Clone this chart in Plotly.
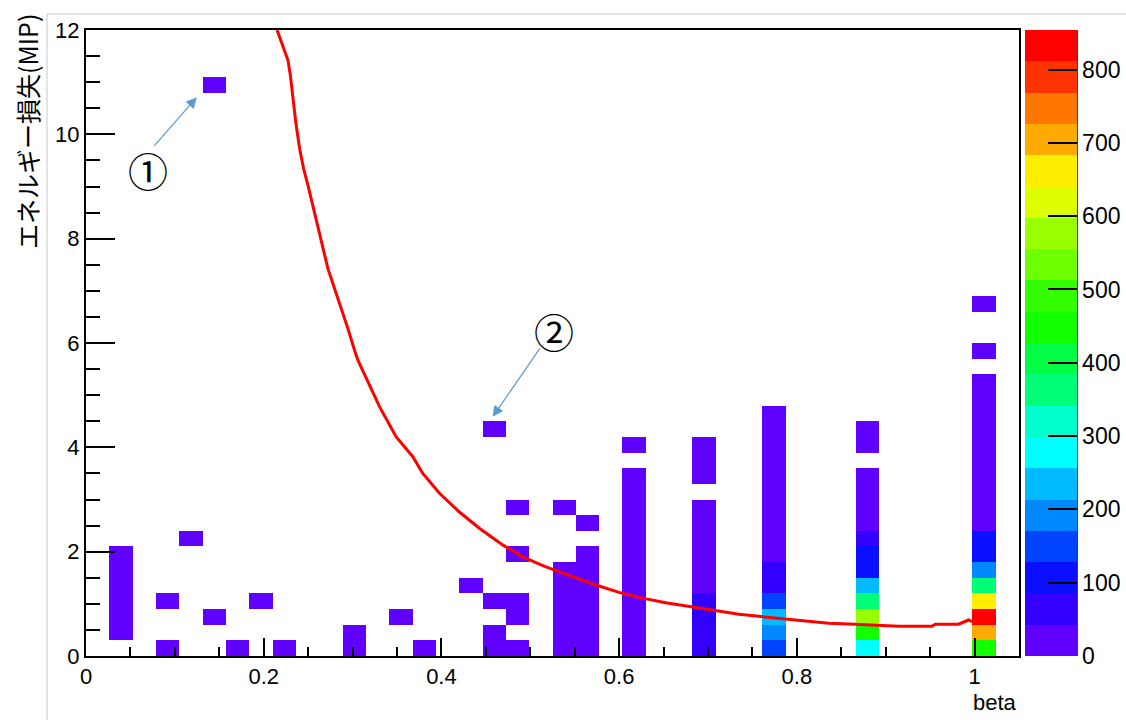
import plotly.graph_objects as go

# ---------------- data ----------------
# 2D histogram binning: 40 x 40 bins
N_XBINS, X_MIN, X_MAX = 40, 0.0, 1.05
N_YBINS, Y_MIN, Y_MAX = 40, 0.0, 12.0

# non-empty cells: (beta bin index, energy-loss bin index, count)
cell_xbin = [
    1, 1, 1, 1, 1, 1,
    3, 3, 4, 5, 5, 6, 7, 8, 11, 11, 13, 14, 16,
    17, 17, 17, 17,
    18, 18, 18, 18, 18,
    20, 20, 20, 20, 20, 20, 20,
    21, 21, 21, 21, 21, 21, 21, 21,
    23, 23, 23, 23, 23, 23, 23, 23, 23, 23, 23, 23, 23,
    26, 26, 26, 26, 26, 26, 26, 26, 26, 26, 26, 26, 26,
    29, 29, 29, 29, 29, 29, 29, 29, 29, 29, 29, 29, 29, 29, 29, 29,
    33, 33, 33, 33, 33, 33, 33, 33, 33, 33, 33, 33, 33, 33,
    38, 38, 38, 38, 38, 38, 38, 38, 38, 38, 38, 38, 38, 38, 38, 38, 38, 38, 38, 38,
]
cell_ybin = [
    1, 2, 3, 4, 5, 6,
    0, 3, 7, 2, 36, 0, 3, 0, 0, 1, 2, 0, 4,
    0, 1, 3, 14,
    0, 2, 3, 6, 9,
    0, 1, 2, 3, 4, 5, 9,
    0, 1, 2, 3, 4, 5, 6, 8,
    0, 1, 2, 3, 4, 5, 6, 7, 8, 9, 10, 11, 13,
    0, 1, 2, 3, 4, 5, 6, 7, 8, 9, 11, 12, 13,
    0, 1, 2, 3, 4, 5, 6, 7, 8, 9, 10, 11, 12, 13, 14, 15,
    0, 1, 2, 3, 4, 5, 6, 7, 8, 9, 10, 11, 13, 14,
    0, 1, 2, 3, 4, 5, 6, 7, 8, 9, 10, 11, 12, 13, 14, 15, 16, 17, 19, 22,
]
cell_count = [
    3, 5, 4, 2, 2, 1,
    1, 1, 1, 1, 1, 1, 1, 1, 1, 1, 1, 1, 1,
    2, 1, 1, 1,
    1, 1, 1, 1, 1,
    6, 5, 4, 3, 2, 1, 1,
    8, 6, 5, 3, 2, 1, 1, 1,
    20, 18, 15, 10, 6, 4, 3, 2, 2, 1, 1, 1, 1,
    70, 65, 55, 48, 35, 20, 10, 5, 3, 2, 1, 1, 1,
    150, 190, 235, 150, 70, 50, 30, 20, 12, 8, 5, 4, 3, 2, 1, 1,
    280, 450, 575, 360, 235, 110, 100, 60, 30, 15, 8, 3, 1, 1,
    450, 705, 840, 660, 360, 190, 110, 95, 40, 30, 20, 15, 10, 6, 4, 3, 2, 1, 1, 1,
]
Z_MAX = 854

# red reference curve
curve_beta = [0.215, 0.2236, 0.2273, 0.2300, 0.2329, 0.2360, 0.2404, 0.2449, 0.2498,
              0.2554, 0.2610, 0.2666, 0.2722, 0.2798, 0.2873, 0.2947, 0.3022, 0.3060,
              0.3303, 0.3491, 0.3678, 0.3790, 0.3978, 0.4202, 0.4427, 0.4689, 0.4913,
              0.5176, 0.5475, 0.5738, 0.6000, 0.6262, 0.6525, 0.6824, 0.7048, 0.7348,
              0.7573, 0.7761, 0.7910, 0.8135, 0.8360, 0.8660, 0.8921, 0.9146, 0.9520,
              0.9558, 0.9820, 0.9895, 0.9933, 0.9970]
curve_dedx = [12.0, 11.58, 11.42, 11.13, 10.68, 10.24, 9.73, 9.34, 9.02,
              8.61, 8.26, 7.84, 7.43, 7.04, 6.66, 6.28, 5.86, 5.67,
              4.78, 4.20, 3.82, 3.50, 3.12, 2.76, 2.45, 2.13, 1.90,
              1.71, 1.52, 1.36, 1.22, 1.11, 1.02, 0.94, 0.87, 0.80,
              0.76, 0.73, 0.70, 0.66, 0.63, 0.61, 0.59, 0.57, 0.57,
              0.61, 0.61, 0.66, 0.69, 0.66]

palette = ["#6000ff", "#3300ff", "#0a10ff", "#0044ff", "#0088ff", "#00bbff",
           "#00ffff", "#00ffcc", "#00ff77", "#00ff44", "#11ff00", "#33ff00",
           "#6eff00", "#99ff00", "#ddff00", "#ffee00", "#ffaa00", "#ff7700",
           "#ff3300", "#ff0000"]

y_title = "エネルギー損失(MIP)"
x_title = "beta"

# ---------------- build ----------------
dx = (X_MAX - X_MIN) / N_XBINS
dy = (Y_MAX - Y_MIN) / N_YBINS
x_centers = [X_MIN + (i + 0.5) * dx for i in range(N_XBINS)]
y_centers = [Y_MIN + (j + 0.5) * dy for j in range(N_YBINS)]
z = [[None] * N_XBINS for _ in range(N_YBINS)]
for i, j, c in zip(cell_xbin, cell_ybin, cell_count):
    z[j][i] = c

n = len(palette)
colorscale = []
for k, c in enumerate(palette):
    colorscale.append([k / n, c])
    colorscale.append([(k + 1) / n, c])

W, H = 1126, 720
L, R, T, B = 86, 107, 30, 64
pw, ph = W - L - R, H - T - B

def px_x(p):
    """window pixel -> paper x"""
    return (p - L) / pw

def px_y(p):
    """window pixel -> paper y"""
    return (H - B - p) / ph

fig = go.Figure()
fig.add_trace(go.Heatmap(
    x=x_centers, y=y_centers, z=z, zmin=0, zmax=Z_MAX,
    colorscale=colorscale, hoverongaps=False,
    colorbar=dict(
        x=px_x(1025), xanchor="left", xpad=0, thickness=52, thicknessmode="pixels",
        len=1, lenmode="fraction", y=0.5, yanchor="middle", ypad=0,
        outlinewidth=0, ticks="inside", ticklen=29, tickwidth=2, tickcolor="black",
        tickvals=[0, 100, 200, 300, 400, 500, 600, 700, 800],
        tickfont=dict(family="Liberation Sans", size=23, color="black"),
    ),
))
fig.add_trace(go.Scatter(
    x=curve_beta, y=curve_dedx, mode="lines",
    line=dict(color="#ff0000", width=3), showlegend=False,
))

axis_font = dict(family="Liberation Sans", size=22, color="black")
fig.update_layout(
    width=W, height=H,
    margin=dict(l=L, r=R, t=T, b=B, autoexpand=False),
    paper_bgcolor="white", plot_bgcolor="white",
    showlegend=False,
    xaxis=dict(range=[X_MIN, X_MAX], showline=True, mirror=True, linecolor="black",
               linewidth=2, ticks="inside", ticklen=18, tickwidth=1.5, tickcolor="black",
               tick0=0, dtick=0.2, showgrid=False, zeroline=False, tickfont=axis_font,
               minor=dict(dtick=0.05, ticks="inside", ticklen=9, tickwidth=1.5,
                          tickcolor="black", showgrid=False)),
    yaxis=dict(range=[Y_MIN, Y_MAX], showline=True, mirror=True, linecolor="black",
               linewidth=2, ticks="inside", ticklen=29, tickwidth=1.5, tickcolor="black",
               tick0=0, dtick=2, showgrid=False, zeroline=False, tickfont=axis_font,
               minor=dict(dtick=0.5, ticks="inside", ticklen=14, tickwidth=1.5,
                          tickcolor="black", showgrid=False)),
)

fig.add_annotation(text=y_title, xref="paper", yref="paper", x=px_x(27), y=px_y(132),
                   xanchor="center", yanchor="middle", textangle=-90, showarrow=False,
                   font=dict(family="Noto Sans CJK JP", size=25, color="black"))
fig.add_annotation(text=x_title, xref="paper", yref="paper", x=px_x(995), y=px_y(702),
                   xanchor="center", yanchor="middle", showarrow=False,
                   font=dict(family="Liberation Sans", size=22, color="black"))

# callouts
fig.add_annotation(text="①", x=0.0697, y=9.31, xref="x", yref="y", showarrow=False,
                   font=dict(family="Noto Sans CJK JP", size=40, color="black"))
fig.add_annotation(text="", x=0.1247, y=10.71, ax=0.0753, ay=9.75, xref="x", yref="y",
                   axref="x", ayref="y", showarrow=True, arrowhead=2, arrowsize=1.8,
                   arrowwidth=1.2, arrowcolor="#5b9bd5")
fig.add_annotation(text="②", x=0.527, y=6.226, xref="x", yref="y", showarrow=False,
                   font=dict(family="Noto Sans CJK JP", size=40, color="black"))
fig.add_annotation(text="", x=0.4576, y=4.584, ax=0.512, ay=5.925, xref="x", yref="y",
                   axref="x", ayref="y", showarrow=True, arrowhead=2, arrowsize=1.8,
                   arrowwidth=1.2, arrowcolor="#5b9bd5")

# colorbar right edge and canvas frame lines
fig.add_shape(type="line", xref="paper", yref="paper", x0=px_x(1077), x1=px_x(1077),
              y0=0, y1=1, line=dict(color="black", width=1.5))
fig.add_shape(type="line", xref="paper", yref="paper", x0=px_x(47), x1=px_x(1126),
              y0=px_y(14), y1=px_y(14), line=dict(color="#c8c8c8", width=1))
fig.add_shape(type="line", xref="paper", yref="paper", x0=px_x(47), x1=px_x(47),
              y0=px_y(14), y1=px_y(720), line=dict(color="#c8c8c8", width=1))

# remove the default page margin so the 1126x720 figure fills the window exactly
fig.write_html("out.html", config={"displayModeBar": False},
               post_script="document.body.style.margin='0px';"
                           "document.body.style.overflow='hidden';")
